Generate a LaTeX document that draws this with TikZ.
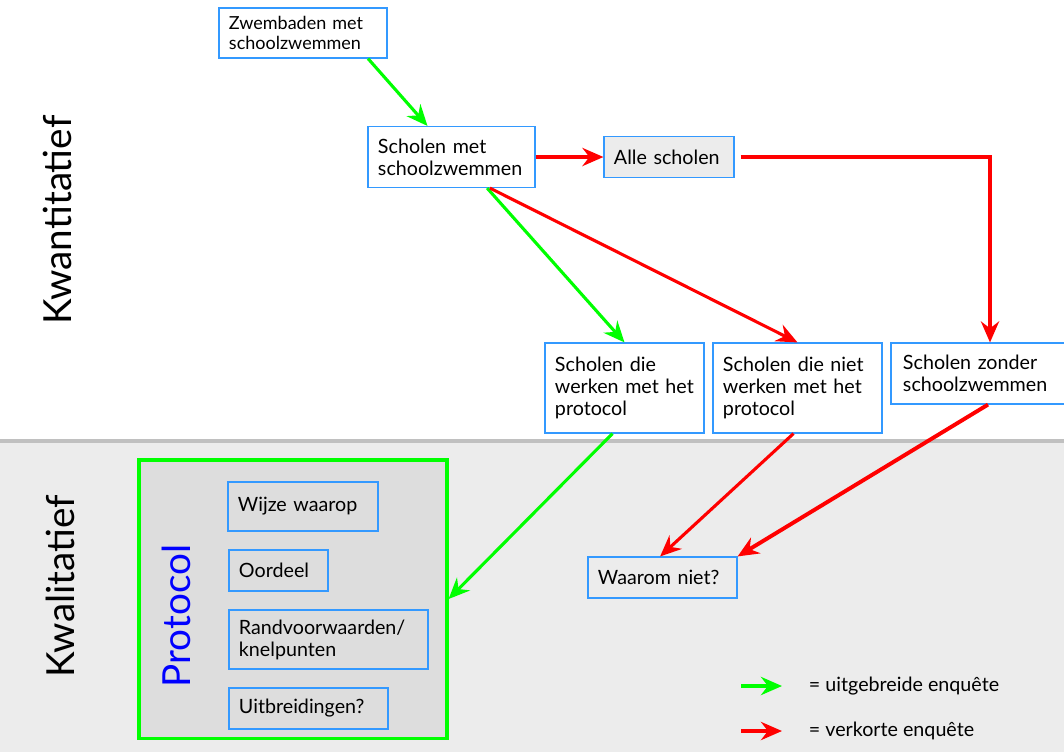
\documentclass[tikz,border=0pt]{standalone}
\usepackage{fontspec}
\setmainfont{Lato}
\usetikzlibrary{arrows.meta}

\definecolor{vakblauw}{RGB}{51,153,255}
\definecolor{lichtgrijs}{RGB}{236,236,236}
\definecolor{lijngrijs}{RGB}{192,192,192}
\definecolor{protgrijs}{RGB}{221,221,221}
\definecolor{groen}{RGB}{0,255,0}
\definecolor{rood}{RGB}{255,0,0}

\tikzset{
	vak/.style 2 args={draw=vakblauw,line width=0.8pt,fill=white,align=left,
		inner xsep=0.25cm,inner ysep=0pt,text width=#1,minimum height=#2,
		font=\fontsize{14}{15.6}\selectfont},
	groenpijl/.style={draw=groen,line width=2.2pt,-{Stealth[length=15pt,width=13pt,inset=5pt]}},
	roodpijl/.style={draw=rood,line width=2.2pt,-{Stealth[length=15pt,width=13pt,inset=5pt]}},
	zijlabel/.style={rotate=90,font=\fontsize{27.5}{33}\selectfont}
}

\begin{document}
\begin{tikzpicture}[x=0.025cm,y=-0.025cm]
	\clip (0,0) rectangle (1064,752);
	
	%BACKGROUND
	\fill[white] (0,0) rectangle (1064,441);
	\fill[lichtgrijs] (0,441) rectangle (1064,752);
	\draw[lijngrijs,line width=3pt] (0,441)--(1064,441);
	
	\node[zijlabel] (kwant) at (57,220) {Kwantitatief};
	\node[zijlabel] (kwal) at (60,586) {Kwalitatief};
	
	%QUANTITATIVE PART
	\node[vak={3.7cm}{1.25cm},font=\fontsize{12.8}{14}\selectfont] (zwem) at (303,33) {Zwembaden met\\schoolzwemmen};
	\node[vak={3.675cm}{1.525cm}] (metzw) at (451.5,157) {Scholen met\\schoolzwemmen};
	\node[vak={2.75cm}{1.025cm},fill=lichtgrijs] (alle) at (669,157) {Alle scholen};
	\node[vak={3.475cm}{2.25cm}] (metprot) at (624.5,388) {Scholen die\\werken met het\\protocol};
	\node[vak={3.725cm}{2.25cm}] (nietprot) at (797.5,388) {Scholen die niet\\werken met het\\protocol};
	\node[vak={4.0cm}{1.525cm},inner xsep=0.3cm] (zonder) at (983,373.5) {Scholen zonder\\schoolzwemmen};
	
	%QUALITATIVE PART
	\node[draw=groen,line width=2.2pt,fill=protgrijs,minimum width=7.7cm,minimum height=6.95cm,inner sep=0pt] (prot) at (293,599) {};
	\node[rotate=90,text=blue,font=\fontsize{27.5}{32}\selectfont] (protlabel) at (176,616) {Protocol};
	\node[vak={3.25cm}{1.225cm},fill=protgrijs] (wijze) at (303,506.5) {Wijze waarop};
	\node[vak={1.975cm}{1.025cm},fill=protgrijs] (oordeel) at (278.5,570.5) {Oordeel};
	\node[vak={4.475cm}{1.475cm},fill=protgrijs] (rand) at (328.5,639.5) {Randvoorwaarden/\\knelpunten};
	\node[vak={3.475cm}{1.025cm},fill=protgrijs] (uitbr) at (308.5,708.5) {Uitbreidingen?};
	\node[vak={3.225cm}{1.025cm},fill=lichtgrijs] (waarom) at (662.5,577.5) {Waarom niet?};
	
	%ARROWS
	\draw[groenpijl] ([xshift=1.625cm]zwem.south)--([xshift=-0.6cm]metzw.north);
	\draw[roodpijl] (metzw.east)--(alle.west);
	\draw[roodpijl] ([xshift=0.15cm]alle.east)-|([xshift=0.175cm]zonder.north);
	\draw[groenpijl] ([xshift=0.89cm]metzw.south)--(metprot.north);
	\draw[roodpijl] ([xshift=0.96cm]metzw.south)--(nietprot.north);
	\draw[groenpijl] ([xshift=-0.3cm]metprot.south)--(prot.east);
	\draw[roodpijl] ([xshift=-0.1cm]nietprot.south)--([xshift=-0.06cm]waarom.north);
	\draw[roodpijl,line width=2.8pt] ([xshift=0.125cm]zonder.south)--(waarom.north east);
	
	%LEGEND
	\node[anchor=west,font=\fontsize{14}{15.6}\selectfont] (leguit) at (804,686) {= uitgebreide enquête};
	\node[anchor=west,font=\fontsize{14}{15.6}\selectfont] (legverk) at (804,731) {= verkorte enquête};
	\coordinate (leggroen) at (741,686);
	\coordinate (legrood) at (741,731);
	\draw[groenpijl] (leggroen)--([xshift=-0.55cm]leguit.west);
	\draw[roodpijl] (legrood)--([xshift=-0.55cm]legverk.west);
\end{tikzpicture}
\end{document}
